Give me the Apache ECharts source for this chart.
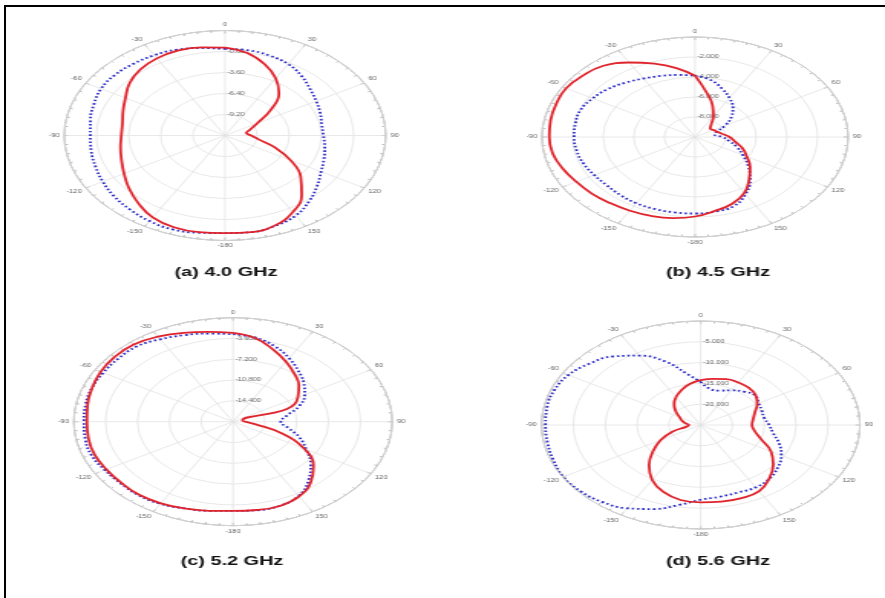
<!DOCTYPE html>
<html>
<head>
<meta charset="utf-8">
<script src="https://cdn.jsdelivr.net/npm/echarts@6.0.0/dist/echarts.min.js"></script>
<style>
  html, body { margin: 0; padding: 0; background: #fff; width: 885px; height: 598px; overflow: hidden; }
  #frame { position: absolute; left: 4px; top: 5px; width: 920px; height: 640px;
           border-top: 2px solid #000; border-left: 2px solid #000; }
  /* the figure is laid out narrow and stretched horizontally */
  #chart { position: absolute; left: 0; top: 0; width: 578px; height: 598px;
           transform: scaleX(1.5311); transform-origin: 0 0; }
</style>
</head>
<body>
<div id="frame"></div>
<div id="chart"></div>
<script>
// Angles (degrees, clockwise from 0 at the top)
const angles = [0, 10, 20, 30, 40, 50, 60, 70, 80, 90, 100, 110, 120, 130, 140, 150, 160, 170, 180,
                190, 200, 210, 220, 230, 240, 250, 260, 270, 280, 290, 300, 310, 320, 330, 340, 350, 360];

// Panel titles
const panelTitles = ['(a) 4.0 GHz', '(b) 4.5 GHz', '(c) 5.2 GHz', '(d) 5.6 GHz'];

// Radial scale per panel (dB)
const radialMin = [-12, -10, -18, -25];
const radialMax = [2, 0, 0, 0];
const radialStep = [2.8, 2, 3.6, 5];
const radialDecimals = [2, 3, 3, 3];

// Angle tick labels (every 30 degrees)
const angleTicks = [0, 30, 60, 90, 120, 150, 180, 210, 240, 270, 300, 330];
const angleTickLabels = ['0', '30', '60', '90', '120', '150', '-180', '-150', '-120', '-90', '-60', '-30'];

// Pattern values, dB (red solid / blue dotted)
const red40 = [-0.27, -0.84, -1.89, -3.18, -4.69, -6.89, -8.79, -9.65, -10.11, -9.73, -9.03, -7.38, -5.42,
               -3.39, -1.61, -0.20, 0.75, 1.09, 1.02, 1.09, 1.02, 0.60, -0.24, -1.08, -1.85, -2.41, -2.76,
               -2.97, -2.93, -2.55, -1.99, -1.15, -0.52, -0.13, 0.04, -0.07, -0.27];
const blue40 = [-0.45, -0.46, -0.66, -1.01, -1.64, -2.34, -2.83, -3.18, -3.45, -3.43, -3.18, -2.83, -2.34,
                -1.53, -0.59, 0.32, 0.81, 1.09, 1.02, 1.16, 1.33, 1.16, 0.88, 0.60, 0.29, 0.01, -0.17,
                -0.27, -0.10, 0.15, 0.46, 0.53, 0.45, 0.35, 0.18, -0.16, -0.45];

const red45 = [-3.87, -5.53, -6.65, -7.60, -8.35, -8.70, -8.60, -8.45, -8.20, -7.75, -7.35, -6.70, -6.10,
               -5.30, -4.50, -3.55, -2.90, -2.50, -2.05, -1.77, -1.60, -1.49, -1.37, -1.20, -1.05, -0.80,
               -0.56, -0.48, -0.42, -0.35, -0.27, -0.44, -0.70, -1.40, -2.20, -3.00, -3.87];
const blue45 = [-3.87, -4.20, -4.85, -5.50, -6.15, -6.90, -7.75, -8.50, -8.70, -8.20, -7.75, -7.10, -6.40,
                -5.45, -4.40, -3.40, -2.63, -2.43, -2.35, -2.34, -2.34, -2.35, -2.42, -2.48, -2.40, -2.25,
                -2.15, -2.10, -2.07, -2.05, -2.28, -2.55, -2.92, -3.25, -3.50, -3.70, -3.87];

const red52 = [-2.63, -3.33, -4.72, -6.01, -7.20, -8.28, -9.54, -11.52, -16.92, -16.65, -15.39, -12.17, -8.73,
               -6.12, -4.32, -3.06, -2.48, -2.48, -2.57, -2.34, -2.02, -1.69, -1.49, -1.53, -1.48, -1.35,
               -1.40, -1.48, -1.30, -1.04, -0.72, -0.54, -0.54, -1.01, -1.62, -2.20, -2.63];
const blue52 = [-2.86, -3.24, -4.14, -5.31, -6.52, -7.56, -8.64, -10.03, -11.79, -12.60, -11.63, -9.99, -8.46,
                -6.53, -4.73, -3.17, -2.52, -2.43, -2.57, -2.34, -2.02, -1.58, -1.39, -1.40, -1.26, -0.99,
                -1.04, -1.15, -1.08, -1.01, -1.06, -1.06, -1.03, -1.53, -2.05, -2.52, -2.86];

const red56 = [-14.23, -13.75, -13.25, -13.20, -13.30, -13.75, -14.75, -15.93, -16.63, -16.95, -16.38, -14.88,
               -12.25, -10.13, -8.25, -6.63, -6.30, -6.30, -6.40, -6.70, -7.88, -9.75, -12.38, -15.25, -17.75,
               -20.25, -22.75, -23.13, -22.50, -21.85, -21.13, -19.88, -18.50, -17.25, -16.13, -15.00, -14.23];
const blue56 = [-14.63, -16.25, -16.20, -15.38, -14.50, -13.88, -14.50, -14.80, -14.88, -14.25, -13.43, -11.88,
                -10.38, -9.18, -8.20, -7.70, -7.75, -7.50, -7.03, -5.50, -3.50, -1.88, -0.88, -0.30, -0.08,
                -0.38, -0.58, -0.63, -0.50, -0.55, -1.00, -2.13, -3.50, -5.75, -8.75, -12.50, -14.63];

const redSeries = [red40, red45, red52, red56];
const blueSeries = [blue40, blue45, blue52, blue56];

// Layout (chart space before the horizontal stretch)
const SX = 1.5311;
const panels = [
  { cx: 225 / SX, cy: 135.5, r: 105, tx: 226 / SX, ty: 272 },
  { cx: 695 / SX, cy: 137,   r: 100, tx: 718 / SX, ty: 272 },
  { cx: 233 / SX, cy: 421.7, r: 104, tx: 232 / SX, ty: 561 },
  { cx: 700.7 / SX, cy: 425, r: 104, tx: 718 / SX, ty: 561 }
];

const chart = echarts.init(document.getElementById('chart'), null, { renderer: 'canvas' });

const polar = [], angleAxis = [], radiusAxis = [], series = [], graphic = [];

panels.forEach((p, i) => {
  polar.push({ center: [p.cx, p.cy], radius: p.r });

  angleAxis.push({
    polarIndex: i,
    type: 'value',
    min: 0, max: 360, interval: 30,
    startAngle: 90, clockwise: true,
    axisLine: { show: true, lineStyle: { color: '#9a9a9a', width: 1 } },
    axisTick: { show: true, inside: true, length: 3, lineStyle: { color: '#9a9a9a', width: 0.8 } },
    minorTick: { show: true, splitNumber: 6, length: 2, lineStyle: { color: '#9a9a9a', width: 0.7 } },
    splitLine: { show: true, lineStyle: { color: '#e2e2e2', width: 0.8 } },
    axisLabel: {
      fontSize: 5, color: '#666', margin: 3, fontFamily: 'Liberation Sans, Arial, sans-serif',
      formatter: v => {
        const k = angleTicks.indexOf(v);
        return k >= 0 ? angleTickLabels[k] : '';
      }
    }
  });

  const mn = radialMin[i], mx = radialMax[i];
  radiusAxis.push({
    polarIndex: i,
    type: 'value',
    min: mn, max: mx, interval: radialStep[i],
    axisLine: { show: false },
    axisTick: { show: false },
    splitLine: { show: true, lineStyle: { color: '#e2e2e2', width: 0.8 } },
    axisLabel: {
      fontSize: 5, color: '#666', fontFamily: 'Liberation Sans, Arial, sans-serif',
      align: 'left', margin: -1.5,
      formatter: v => (Math.abs(v - mn) < 1e-6 || Math.abs(v - mx) < 1e-6) ? '' : v.toFixed(radialDecimals[i])
    },
    z: 1
  });

  series.push({
    type: 'line', coordinateSystem: 'polar', polarIndex: i,
    data: angles.map((a, k) => [blueSeries[i][k], a]),
    symbol: 'none', smooth: 0.45,
    lineStyle: { color: '#2a2ac4', width: 1.8, type: [1.6, 1.9] },
    z: 3
  });
  series.push({
    type: 'line', coordinateSystem: 'polar', polarIndex: i,
    data: angles.map((a, k) => [redSeries[i][k], a]),
    symbol: 'none', smooth: 0.45,
    lineStyle: { color: '#e0242c', width: 1.8 },
    z: 4
  });

  graphic.push({
    type: 'text', x: p.tx, y: p.ty,
    style: {
      text: panelTitles[i], align: 'center', verticalAlign: 'middle',
      fontSize: 13, fontWeight: 'bold', fill: '#111', fontFamily: 'Liberation Sans, Arial, sans-serif'
    }
  });
});

chart.setOption({
  animation: false,
  backgroundColor: 'transparent',
  polar, angleAxis, radiusAxis, series, graphic
});
</script>
</body>
</html>
